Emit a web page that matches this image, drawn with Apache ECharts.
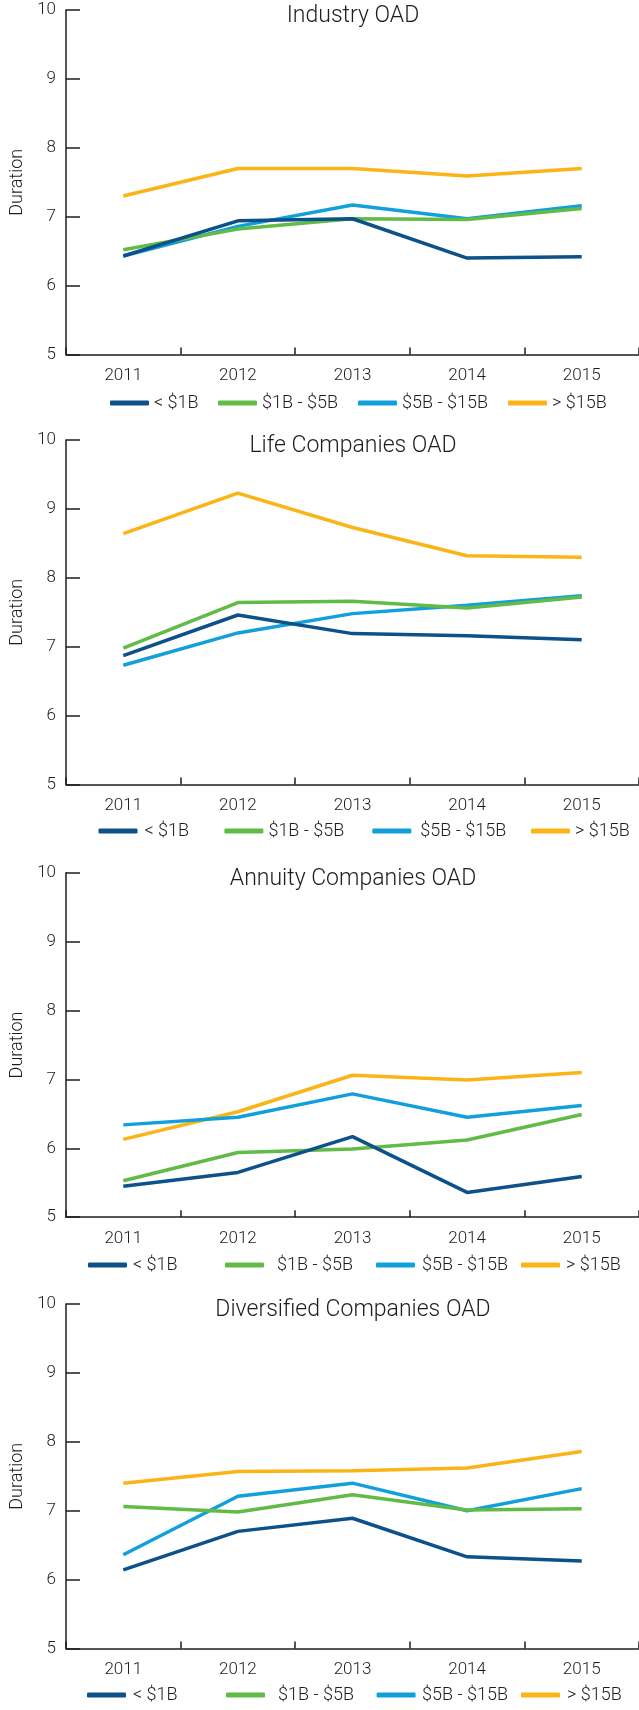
<!DOCTYPE html>
<html>
<head>
<meta charset="utf-8">
<title>Option-adjusted duration by company size</title>
<script src="https://cdn.jsdelivr.net/npm/echarts@6/dist/echarts.min.js"></script>
<style>
  html, body { margin: 0; padding: 0; background: #ffffff; }
  #chart { width: 639px; height: 1710px; }
</style>
</head>
<body>
<div id="chart"></div>
<script>
// Years on the category axis
const years = ['2011', '2012', '2013', '2014', '2015'];

// Size buckets (legend / series names)
const buckets = ['< $1B', '$1B - $5B', '$5B - $15B', '> $15B'];

// Panel titles
const panelTitles = ['Industry OAD', 'Life Companies OAD', 'Annuity Companies OAD', 'Diversified Companies OAD'];

// Y-axis tick range
const yMin = 5;
const yMax = 10;
const yStep = 1;

// Industry OAD
const industryUnder1B = [6.43, 6.94, 6.97, 6.40, 6.42];
const industry1to5B   = [6.52, 6.82, 6.97, 6.96, 7.12];
const industry5to15B  = [6.43, 6.86, 7.17, 6.97, 7.16];
const industryOver15B = [7.30, 7.70, 7.70, 7.59, 7.70];

// Life Companies OAD
const lifeUnder1B = [6.87, 7.46, 7.19, 7.16, 7.10];
const life1to5B   = [6.98, 7.64, 7.66, 7.56, 7.72];
const life5to15B  = [6.73, 7.20, 7.48, 7.60, 7.74];
const lifeOver15B = [8.64, 9.23, 8.73, 8.32, 8.30];

// Annuity Companies OAD
const annuityUnder1B = [5.45, 5.65, 6.17, 5.36, 5.59];
const annuity1to5B   = [5.53, 5.94, 5.99, 6.12, 6.49];
const annuity5to15B  = [6.34, 6.45, 6.79, 6.45, 6.62];
const annuityOver15B = [6.13, 6.53, 7.06, 6.99, 7.10];

// Diversified Companies OAD
const diversifiedUnder1B = [6.14, 6.70, 6.89, 6.33, 6.27];
const diversified1to5B   = [7.06, 6.98, 7.23, 7.01, 7.03];
const diversified5to15B  = [6.36, 7.21, 7.40, 7.00, 7.32];
const diversifiedOver15B = [7.40, 7.57, 7.58, 7.62, 7.86];

const panelData = [
  [industryUnder1B, industry1to5B, industry5to15B, industryOver15B],
  [lifeUnder1B, life1to5B, life5to15B, lifeOver15B],
  [annuityUnder1B, annuity1to5B, annuity5to15B, annuityOver15B],
  [diversifiedUnder1B, diversified1to5B, diversified5to15B, diversifiedOver15B]
];

// ---- styling and layout ----
const FONT = 'Roboto, "Open Sans", sans-serif';
const WEIGHT = 300;
const INK = '#1f1c1d';
const bucketColors = ['#0c5189', '#62bb46', '#12a0dc', '#fbb417'];
const bucketZ = [6, 5, 4, 3];

const gridLeft = 64;
const gridWidth = 580;
const gridHeight = 344.5;
const gridTops = [10, 440, 872.7, 1304];
const titleCenterX = 353;

// Legend rows: vertical centre, left edge of each swatch, extra gap before each label
const legendRows = [
  { cy: 404,  lefts: [110, 218, 358, 508],       gaps: [0, 0, 0, 0] },
  { cy: 832,  lefts: [98.5, 224.4, 372.3, 531],  gaps: [2, 0, 4, 0] },
  { cy: 1266, lefts: [88, 225, 376, 521],        gaps: [1, 8, 2, 1] },
  { cy: 1696, lefts: [87, 226, 376.6, 521],      gaps: [2, 8, 1.5, 2] }
];

const grids = [];
const xAxes = [];
const yAxes = [];
const titles = [];
const legends = [];
const series = [];

panelTitles.forEach(function (name, p) {
  grids.push({ left: gridLeft, top: gridTops[p], width: gridWidth, height: gridHeight, containLabel: false });

  titles.push({
    text: name,
    left: titleCenterX,
    top: gridTops[p] - 5,
    textAlign: 'center',
    padding: 0,
    textStyle: { fontFamily: FONT, fontSize: 23, fontWeight: WEIGHT, color: INK }
  });

  xAxes.push({
    type: 'category',
    gridIndex: p,
    data: years,
    boundaryGap: true,
    axisLine: { show: true, lineStyle: { color: INK, width: 1.5 } },
    axisTick: { show: true, inside: true, length: 7, lineStyle: { color: INK, width: 1.5 } },
    axisLabel: { color: INK, fontFamily: FONT, fontWeight: WEIGHT, fontSize: 17, margin: 13 },
    splitLine: { show: false }
  });

  yAxes.push({
    type: 'value',
    gridIndex: p,
    min: yMin,
    max: yMax,
    interval: yStep,
    name: 'Duration',
    nameLocation: 'middle',
    nameGap: 40,
    nameTextStyle: { color: INK, fontFamily: FONT, fontWeight: WEIGHT, fontSize: 18 },
    axisLine: { show: true, lineStyle: { color: INK, width: 1.5 } },
    axisTick: { show: true, inside: true, length: 14, lineStyle: { color: INK, width: 1.5 } },
    axisLabel: { color: INK, fontFamily: FONT, fontWeight: WEIGHT, fontSize: 17, margin: 10, padding: [8, 0, 0, 0] },
    splitLine: { show: false }
  });

  const row = legendRows[p];
  buckets.forEach(function (bucket, b) {
    legends.push({
      data: [bucket],
      left: row.lefts[b],
      top: row.cy - 10,
      padding: 0,
      icon: 'roundRect',
      itemWidth: 39,
      itemHeight: 5,
      selectedMode: false,
      textStyle: { color: INK, fontFamily: FONT, fontWeight: WEIGHT, fontSize: 18, padding: [0, 0, 0, row.gaps[b]] }
    });

    series.push({
      name: bucket,
      type: 'line',
      xAxisIndex: p,
      yAxisIndex: p,
      data: panelData[p][b],
      z: bucketZ[b],
      symbol: 'none',
      smooth: false,
      color: bucketColors[b],
      lineStyle: { color: bucketColors[b], width: 3.5 },
      emphasis: { disabled: true }
    });
  });
});

const chart = echarts.init(document.getElementById('chart'), null, { renderer: 'canvas' });
chart.setOption({
  animation: false,
  backgroundColor: '#ffffff',
  title: titles,
  grid: grids,
  xAxis: xAxes,
  yAxis: yAxes,
  legend: legends,
  series: series
});
</script>
</body>
</html>
